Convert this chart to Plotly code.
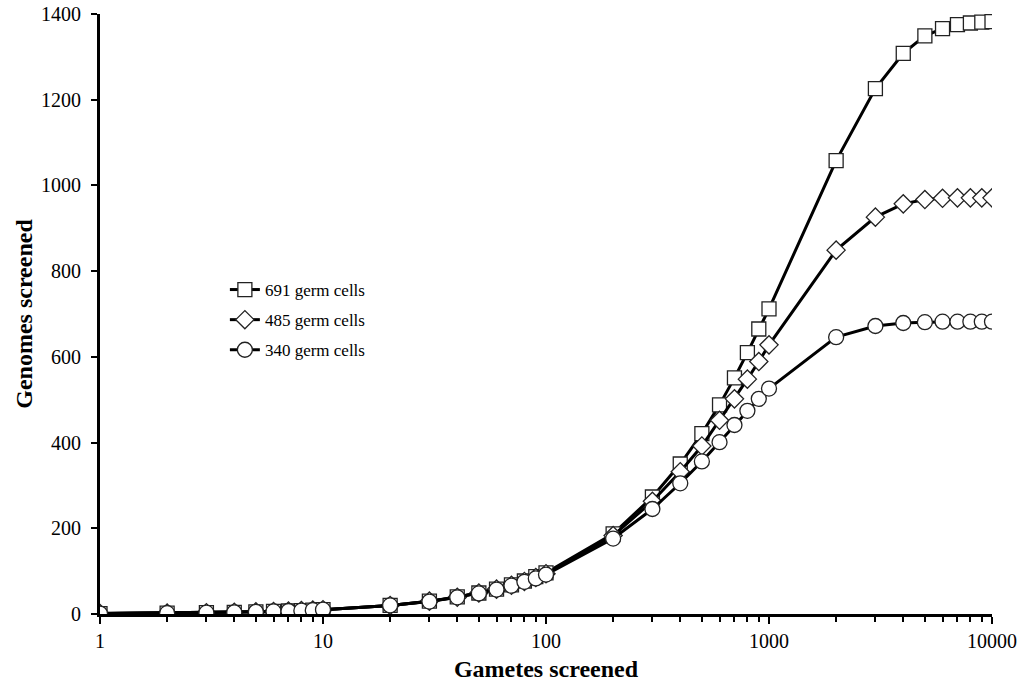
import plotly.graph_objects as go

gametes = [1, 2, 3, 4, 5, 6, 7, 8, 9, 10,
           20, 30, 40, 50, 60, 70, 80, 90, 100,
           200, 300, 400, 500, 600, 700, 800, 900, 1000,
           2000, 3000, 4000, 5000, 6000, 7000, 8000, 9000, 10000]

cells_691 = [1, 2, 3, 4, 5, 6, 7, 8, 9, 10,
             20, 30, 40, 49, 58, 68, 77, 87, 96,
             187, 273, 350, 421, 488, 551, 610, 665, 712,
             1058, 1226, 1308, 1349, 1366, 1375, 1379, 1381, 1382]

cells_485 = [1, 2, 3, 4, 5, 6, 7, 8, 9, 10,
             20, 30, 39, 49, 58, 67, 76, 85, 94,
             183, 263, 332, 392, 452, 502, 548, 589, 628,
             849, 926, 957, 967, 970, 971, 971, 971, 971]

cells_340 = [1, 2, 3, 4, 5, 6, 7, 8, 9, 10,
             20, 29, 39, 48, 57, 66, 75, 83, 92,
             176, 245, 305, 356, 401, 441, 474, 502, 526,
             646, 672, 679, 681, 682, 682, 682, 682, 682]

series = [
    ("691 germ cells", cells_691, "square", 14),
    ("485 germ cells", cells_485, "diamond", 14),
    ("340 germ cells", cells_340, "circle", 15),
]

x_major = [1, 10, 100, 1000, 10000]
x_major_text = ["1", "10", "100", "1000", "10000"]
x_minor = [m * d for d in [1, 10, 100, 1000] for m in range(2, 10)]
y_ticks = [0, 200, 400, 600, 800, 1000, 1200, 1400]

FONT = "Times New Roman, Liberation Serif, DejaVu Serif, serif"

fig = go.Figure()
for i, (name, vals, sym, size) in enumerate(series):
    fig.add_trace(go.Scatter(
        x=gametes, y=vals, name=name, mode="lines+markers",
        line=dict(color="black", width=3),
        marker=dict(symbol=sym, size=size, color="white",
                    line=dict(color="#222222", width=1.3)),
        legendgroup=f"g{i}",
    ))

fig.update_layout(
    width=1021, height=690,
    margin=dict(l=100, r=29, t=14, b=76),
    paper_bgcolor="white", plot_bgcolor="white",
    font=dict(family=FONT, size=17, color="black"),
    showlegend=True,
    legend=dict(x=0.14, y=0.49, xanchor="left", yanchor="middle",
                bgcolor="rgba(0,0,0,0)", font=dict(family=FONT, size=17),
                tracegroupgap=5, itemwidth=30),
    xaxis=dict(
        type="log", range=[0, 4], automargin=False,
        tickvals=x_major, ticktext=x_major_text,
        ticks="outside", ticklen=7, tickwidth=2, tickcolor="black",
        minor=dict(tickvals=x_minor, ticks="outside", ticklen=5, tickwidth=2, tickcolor="black"),
        showline=True, linecolor="black", linewidth=3,
        showgrid=False, zeroline=False,
        tickfont=dict(family=FONT, size=20),
        title=dict(text="<b>Gametes screened</b>", font=dict(family=FONT, size=24), standoff=10),
    ),
    yaxis=dict(
        range=[0, 1400], tickvals=y_ticks, automargin=False,
        ticks="outside", ticklen=6, tickwidth=2, tickcolor="black",
        ticklabelstandoff=6,
        showline=True, linecolor="black", linewidth=3,
        showgrid=False, zeroline=False,
        tickfont=dict(family=FONT, size=20),
        title=dict(text="<b>Genomes screened</b>", font=dict(family=FONT, size=24), standoff=2),
    ),
)

fig.write_html("out.html")
